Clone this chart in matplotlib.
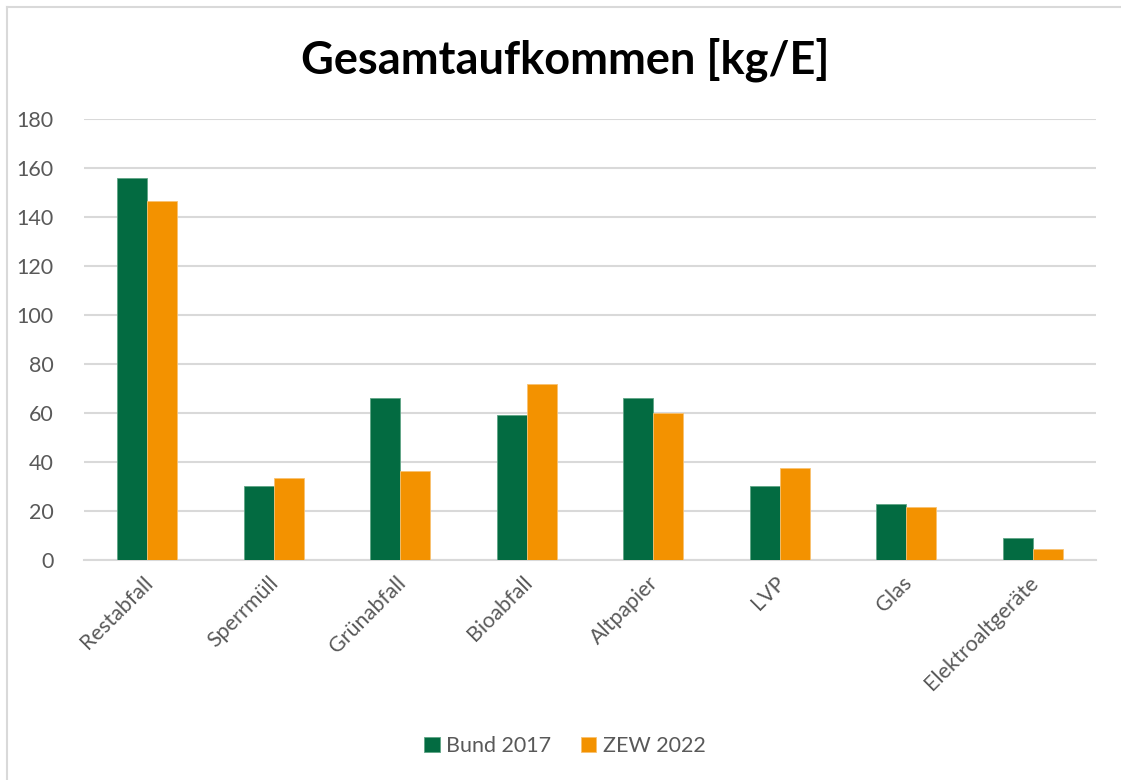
import matplotlib
matplotlib.use('Agg')
import matplotlib.pyplot as plt
import matplotlib.transforms as mtransforms
import numpy as np
from matplotlib.lines import Line2D

# Daten
kategorien = ['Restabfall', 'Sperrmüll', 'Grünabfall', 'Bioabfall',
              'Altpapier', 'LVP', 'Glas', 'Elektroaltgeräte']
bund_2017 = [156, 30, 66, 59, 66, 30, 23, 9]
zew_2022 = [146.5, 33.5, 36.5, 72, 60, 37.5, 21.5, 4.5]
y_ticks = [0, 20, 40, 60, 80, 100, 120, 140, 160, 180]

gruen = '#036B41'
orange = '#F39200'
grau_text = '#595959'
grau_linie = '#D9D9D9'

plt.rcParams['font.family'] = ['Lato', 'DejaVu Sans']

fig = plt.figure(figsize=(11.21, 7.8), dpi=100)
ax = fig.add_axes([0.0749, 0.2821, 0.9028, 0.5653])

x = np.arange(len(kategorien))
breite = 0.237
ax.bar(x - breite / 2, bund_2017, breite, color=gruen, label='Bund 2017',
       edgecolor='#5FA585', linewidth=0.6, zorder=3)
ax.bar(x + breite / 2, zew_2022, breite, color=orange, label='ZEW 2022',
       edgecolor='#F8C271', linewidth=0.6, zorder=3)

ax.set_xlim(-0.5, len(kategorien) - 0.5)
ax.set_ylim(0, 180)
ax.set_yticks(y_ticks)
ax.yaxis.grid(True, color=grau_linie, linewidth=1.5, zorder=0)
ax.set_axisbelow(True)
for s in ['top', 'right', 'left']:
    ax.spines[s].set_visible(False)
ax.spines['bottom'].set_color(grau_linie)
ax.spines['bottom'].set_linewidth(1.5)
ax.tick_params(axis='both', length=0, colors=grau_text, labelsize=15.5)
ax.tick_params(axis='y', pad=22)
ax.set_xticks(x)
ax.set_xticklabels(kategorien, rotation=45, ha='right', rotation_mode='anchor')
ax.tick_params(axis='x', pad=9)
# Beschriftungen leicht nach links verschieben
verschiebung = mtransforms.ScaledTranslation(-5 / 100, 0, fig.dpi_scale_trans)
for lbl in ax.get_xticklabels():
    lbl.set_transform(lbl.get_transform() + verschiebung)

fig.text(0.504, 0.924, 'Gesamtaufkommen [kg/E]', ha='center', va='center',
         fontsize=32.5, fontweight='bold', color='black')

leg = fig.legend(loc='center', bbox_to_anchor=(0.504, 0.043), ncol=2,
                 frameon=False, fontsize=15.5, handlelength=0.7, handleheight=0.7,
                 handletextpad=0.3, columnspacing=1.4)
for t in leg.get_texts():
    t.set_color(grau_text)

# Rahmen (nur oben und links sichtbar)
fig.add_artist(Line2D([0.0065, 1.0], [0.9906, 0.9906], transform=fig.transFigure,
                      color=grau_linie, linewidth=1.5))
fig.add_artist(Line2D([0.0065, 0.0065], [0.0, 0.9906], transform=fig.transFigure,
                      color=grau_linie, linewidth=1.5))

fig.savefig('out.png', dpi=100)
